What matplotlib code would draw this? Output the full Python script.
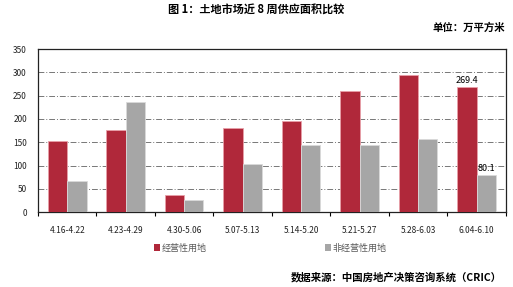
import numpy as np
from matplotlib import pyplot as plt
from matplotlib.patches import Patch

plt.rcParams['font.family'] = ['Noto Sans CJK SC', 'DejaVu Sans']

weeks = ['4.16-4.22', '4.23-4.29', '4.30-5.06', '5.07-5.13',
         '5.14-5.20', '5.21-5.27', '5.28-6.03', '6.04-6.10']
commercial = [152, 177, 36, 180, 195, 259, 295, 269.4]
non_commercial = [67, 237, 27, 104, 143, 145, 158, 80.1]

red = '#B0283A'
grey = '#A6A6A6'

fig = plt.figure(figsize=(5.13, 2.87), dpi=100)
ax = fig.add_axes([0.074, 0.261, 0.912, 0.568])

x = np.arange(len(weeks))
w = 0.33
ax.bar(x - w / 2, commercial, w, color=red, edgecolor='#E8A0A8', linewidth=0.6, zorder=3)
ax.bar(x + w / 2, non_commercial, w, color=grey, edgecolor='#DADADA', linewidth=0.6, zorder=3)

# Labels on the last week only
ax.text(x[-1] - w / 2, commercial[-1] + 4, '269.4', ha='center', va='bottom', fontsize=6.5)
ax.text(x[-1] + w / 2, non_commercial[-1] + 4, '80.1', ha='center', va='bottom', fontsize=6.5)

ax.set_xlim(-0.5, len(weeks) - 0.5)
ax.set_ylim(0, 350)
ax.set_yticks(range(0, 351, 50))
ax.yaxis.grid(True, linestyle=(0, (6, 2, 1, 2)), color='#777777', linewidth=0.7, zorder=0)
ax.set_axisbelow(True)

ax.set_xticks(np.arange(-0.5, len(weeks), 1))
ax.set_xticklabels([])
ax.set_xticks(x, minor=True)
ax.set_xticklabels(weeks, minor=True, fontsize=6, color='#222222')
ax.tick_params(axis='x', which='major', length=3, direction='out', width=0.8)
ax.tick_params(axis='x', which='minor', length=0, pad=10)
ax.tick_params(axis='y', length=0, labelsize=6, colors='#222222', pad=8)

for s in ['top', 'left', 'right']:
    ax.spines[s].set_linestyle((0, (1, 1)))
    ax.spines[s].set_linewidth(0.9)
    ax.spines[s].set_color('#222222')
ax.spines['left'].set_linestyle('-')
ax.spines['bottom'].set_color('#222222')
ax.spines['bottom'].set_linewidth(0.9)

handles = [Patch(facecolor=red), Patch(facecolor=grey)]
fig.legend(handles, ['经营性用地', '非经营性用地'], loc='center', bbox_to_anchor=(0.527, 0.136),
           ncol=2, frameon=False, fontsize=6.5, handlelength=0.7, handleheight=0.7,
           handletextpad=0.2, columnspacing=13, labelcolor='#595959')

fig.text(0.5, 0.965, '图 1：土地市场近 8 周供应面积比较', ha='center', va='center',
         fontsize=8, fontweight='bold')
fig.text(0.985, 0.905, '单位：万平方米', ha='right', va='center', fontsize=7.5, fontweight='bold')
fig.text(0.978, 0.035, '数据来源：中国房地产决策咨询系统（CRIC）', ha='right', va='center',
         fontsize=7.5, fontweight='bold')

fig.savefig('out.png', dpi=100)
